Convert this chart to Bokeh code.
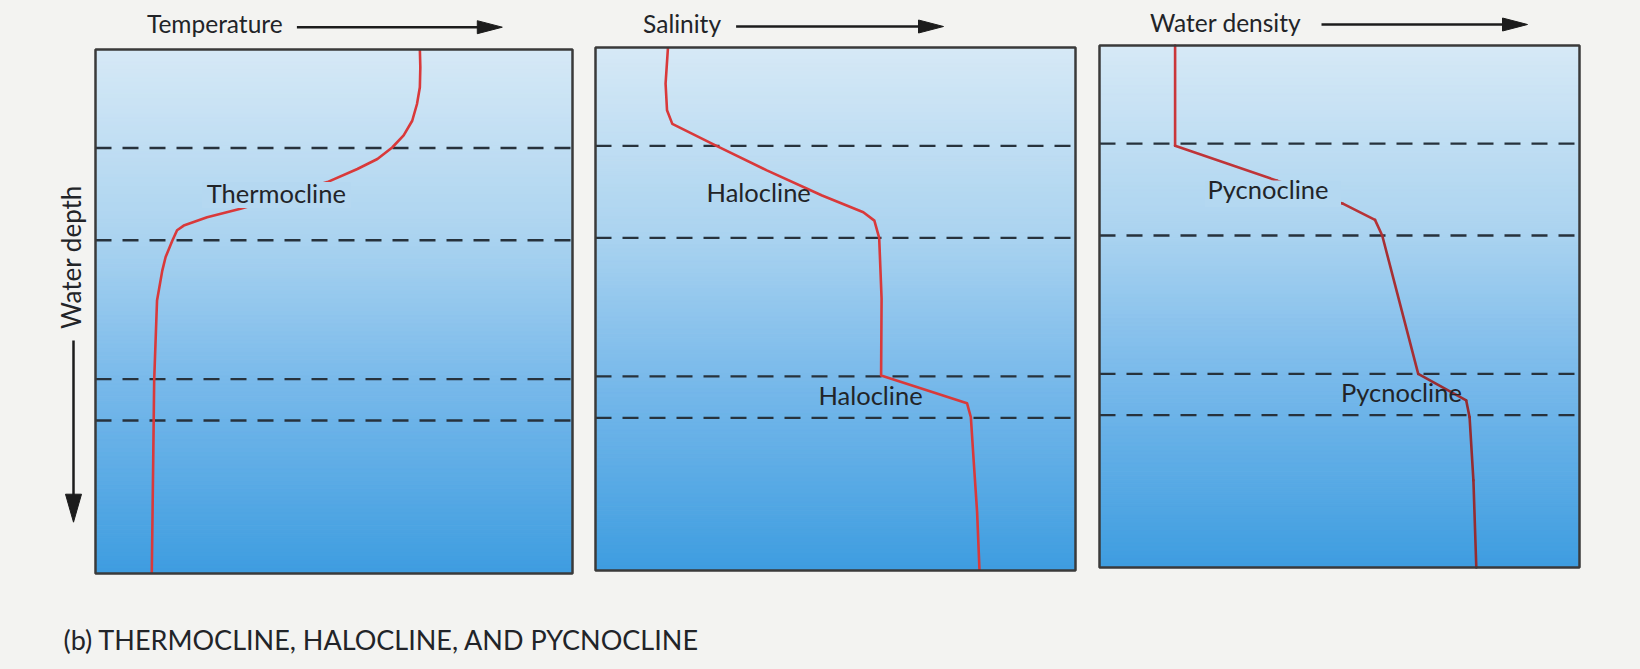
import numpy as np
from bokeh.plotting import figure
from bokeh.layouts import row, column
from bokeh.models import Range1d, Label
from bokeh.embed import file_html
from bokeh.resources import INLINE

# ---------------- data (relative units: x = property 0..100, depth 0..100) ----------------
layer_depths = [18.8, 36.4, 62.9, 70.8]

temp_x = [68.0, 68.1, 68.0, 67.4, 66.4, 64.6, 62.2, 59.1, 54.9, 48.6, 30.4, 23.4, 18.5, 17.1, 16.1, 14.7, 14.0, 12.9, 12.3, 12.1, 11.8]
temp_d = [0.0, 3.4, 7.2, 10.4, 13.6, 16.4, 18.7, 20.9, 22.8, 25.3, 30.4, 32.0, 33.6, 34.5, 36.5, 39.6, 42.2, 47.9, 63.2, 78.4, 100.0]

sal_x = [15.1, 14.6, 14.9, 16.0, 25.0, 35.7, 47.2, 55.8, 58.1, 59.1, 59.6, 59.5, 77.4, 78.2, 78.8, 79.5, 80.0]
sal_d = [0.0, 6.9, 12.0, 14.6, 18.7, 23.5, 28.3, 31.5, 33.1, 36.4, 48.0, 62.7, 68.0, 70.7, 79.2, 88.8, 100.0]

den_x = [15.75, 15.75, 37.0, 50.7, 57.4, 58.9, 66.4, 76.4, 77.1, 77.9, 78.5]
den_d = [0.0, 19.2, 25.9, 30.3, 33.4, 36.4, 62.9, 68.0, 71.2, 83.3, 100.0]

panel_titles = ["Temperature", "Salinity", "Water density"]
temp_labels = [("Thermocline", 37.9, 29.3)]
sal_labels = [("Halocline", 34.0, 29.6), ("Halocline", 57.3, 68.5)]
den_labels = [("Pycnocline", 35.1, 29.4), ("Pycnocline", 62.9, 68.3)]
depth_label = "Water depth"
caption = "(b) THERMOCLINE, HALOCLINE, AND PYCNOCLINE"

# ---------------- style ----------------
FONT = "Lato"
PAPER = "#f3f3f1"
TEXT = "#222428"
INK = "#1c1c1c"
LINE_DARK = "#27323c"
LABEL_FS, TITLE_FS, CAP_FS, DEPTH_FS = 25.5, 24.5, 27.0, 26.0
BASE_SHIFT = 0.41  # em; lifts the drawn baseline onto the intended one
grad_stops = [(0.0, (214, 233, 246)), (0.35, (172, 212, 240)), (0.65, (118, 184, 234)), (1.0, (62, 157, 224))]


def mix(c0, c1, f):
    return tuple(int(round(a + (b - a) * f)) for a, b in zip(c0, c1))


def hexc(c):
    return "#%02x%02x%02x" % tuple(c)


def grad_color(t):
    t = min(max(t, 0.0), 1.0)
    for (t0, c0), (t1, c1) in zip(grad_stops[:-1], grad_stops[1:]):
        if t0 <= t <= t1:
            return hexc(mix(c0, c1, (t - t0) / (t1 - t0)))
    return hexc(grad_stops[-1][1])


def make_panel(W, H, box, xs, ds, labels, line_colors, title, title_px, arrow_px, masks_px=()):
    """box = (left, right, top, bottom) of the panel in canvas pixels."""
    bl, br, bt, bb = box
    sx = (br - bl) / 100.0
    sy = (bb - bt) / 100.0
    X = lambda px: (px - bl) / sx
    Y = lambda py: (py - bt) / sy

    p = figure(width=W, height=H,
               x_range=Range1d(X(0), X(W)), y_range=Range1d(Y(H), Y(0)),
               x_axis_type=None, y_axis_type=None, title=None, min_border=0,
               output_backend="svg", toolbar_location=None)
    p.border_fill_color = PAPER
    p.background_fill_color = PAPER
    p.outline_line_color = None

    # gradient background (water colour deepening with depth)
    edges = np.linspace(0, 100, 131)
    cols = [grad_color((a + b) / 200.0) for a, b in zip(edges[:-1], edges[1:])]
    p.quad(left=0, right=100, top=edges[:-1], bottom=edges[1:],
           fill_color=cols, line_color=cols, line_width=1)

    p.segment(x0=0, x1=100, y0=layer_depths, y1=layer_depths, line_color=LINE_DARK,
              line_width=2.3, line_dash="16 11")

    # profile line; colour may darken with depth
    c_top, c_bot = line_colors
    if c_top == c_bot:
        p.line(xs, ds, line_color=hexc(c_top), line_width=2.6, line_join="round")
    else:
        segc = [hexc(mix(c_top, c_bot, min(1.0, (d0 + d1) / 2 / 70.0))) for d0, d1 in zip(ds[:-1], ds[1:])]
        p.segment(x0=xs[:-1], y0=ds[:-1], x1=xs[1:], y1=ds[1:], line_color=segc,
                  line_width=2.6, line_cap="round")

    # knock-out boxes behind labels that sit on the line
    for (l, r, t, b) in masks_px:
        c = grad_color(Y((t + b) / 2) / 100.0)
        p.quad(left=X(l), right=X(r), top=Y(t), bottom=Y(b), fill_color=c, line_color=c, line_width=1)

    for txt, lx, ld in labels:
        p.add_layout(Label(x=lx, y=ld - BASE_SHIFT * LABEL_FS / sy, text=txt,
                           text_align="center", text_baseline="alphabetic",
                           text_font=FONT, text_font_size=f"{LABEL_FS}px", text_color=TEXT))

    # panel frame
    p.quad(left=0, right=100, top=0, bottom=100, fill_color=None,
           line_color="#3a3a3a", line_width=2.5)

    # property title with arrow
    tx, ty = title_px
    p.add_layout(Label(x=X(tx), y=Y(ty - BASE_SHIFT * TITLE_FS), text=title,
                       text_align="left", text_baseline="alphabetic",
                       text_font=FONT, text_font_size=f"{TITLE_FS}px", text_color=TEXT))
    a0, a1, ay = arrow_px
    hl, hw = 25.0, 6.5
    p.segment(x0=X(a0), x1=X(a1 - hl + 2), y0=Y(ay), y1=Y(ay), line_color=INK, line_width=2.5)
    p.patch(x=[X(a1 - hl), X(a1), X(a1 - hl)], y=[Y(ay - hw), Y(ay), Y(ay + hw)],
            fill_color=INK, line_color=INK, line_width=1)
    return p, X, Y


RED = (217, 57, 58)
MAROON = (150, 44, 48)

p1, X1, Y1 = make_panel(583, 600, (95, 572, 49, 573), temp_x, temp_d, temp_labels, (RED, RED),
                        panel_titles[0], (146.4, 33.3), (296.4, 501.8, 26.7),
                        masks_px=[(202, 350, 182, 207)])
p2, X2, Y2 = make_panel(504, 600, (12, 492, 47, 570), sal_x, sal_d, sal_labels, (RED, RED),
                        panel_titles[1], (59.6, 33.0), (152.6, 360.0, 26.0))
p3, X3, Y3 = make_panel(553, 600, (12, 492, 45, 567), den_x, den_d, den_labels, ((210, 56, 60), MAROON),
                        panel_titles[2], (62.6, 31.7), (234.0, 440.0, 24.0),
                        masks_px=[(118, 253, 180.5, 206)])

# depth label and downward arrow at the left of the first panel
p1.add_layout(Label(x=X1(70), y=Y1(256.5), text=depth_label, angle=np.pi / 2,
                    text_align="center", text_baseline="middle",
                    text_font=FONT, text_font_size=f"{DEPTH_FS}px", text_color=TEXT))
dx, d0, d1 = 73.0, 340.0, 521.7
p1.segment(x0=X1(dx), x1=X1(dx), y0=Y1(d0), y1=Y1(d1 - 26), line_color=INK, line_width=2.5)
p1.patch(x=[X1(dx - 8), X1(dx), X1(dx + 8)], y=[Y1(d1 - 28), Y1(d1), Y1(d1 - 28)],
         fill_color=INK, line_color=INK, line_width=1)

# caption strip
cap = figure(width=1640, height=69, x_range=Range1d(0, 1640), y_range=Range1d(0, 69),
             x_axis_type=None, y_axis_type=None, title=None, min_border=0,
             output_backend="svg", toolbar_location=None)
cap.border_fill_color = PAPER
cap.background_fill_color = PAPER
cap.outline_line_color = None
cap.add_layout(Label(x=63, y=19 + BASE_SHIFT * CAP_FS, text=caption,
                     text_align="left", text_baseline="alphabetic",
                     text_font=FONT, text_font_size=f"{CAP_FS}px", text_color=TEXT))

layout = column(row(p1, p2, p3, styles={"background-color": PAPER}), cap,
                styles={"background-color": PAPER})
open("out.html", "w").write(file_html(layout, INLINE))
